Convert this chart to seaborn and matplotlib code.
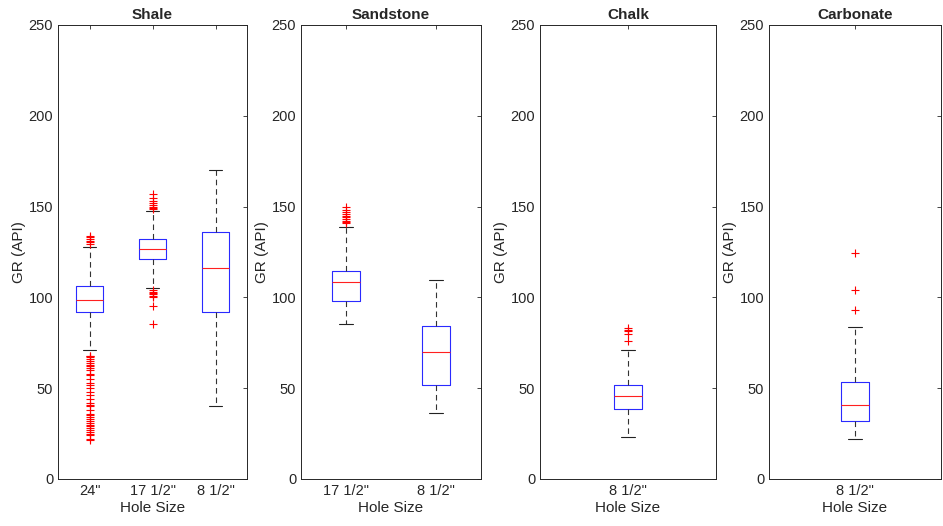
import numpy as np
import pandas as pd
import matplotlib
matplotlib.use("Agg")
import matplotlib.pyplot as plt
import seaborn as sns

# box statistics (GR in API units)
# order per box: whisker low, q1, median, q3, whisker high
lithologies = ["Shale", "Sandstone", "Chalk", "Carbonate"]
hole_sizes = {
    "Shale": ['24"', '17 1/2"', '8 1/2"'],
    "Sandstone": ['17 1/2"', '8 1/2"'],
    "Chalk": ['8 1/2"'],
    "Carbonate": ['8 1/2"'],
}

shale_24_stats = [71.0, 91.8, 98.6, 106.3, 128.0]
shale_24_low = [68, 67.5, 67, 66, 65, 64, 63, 62, 61, 60, 58, 57, 55, 53, 52,
                50, 48, 46, 44, 42, 41, 40, 38, 36, 35, 34, 33, 32, 31, 30,
                29, 28, 27, 26, 25, 24, 22, 21.5]
shale_24_high = [129.5, 130.5, 131, 132, 133, 134]

shale_17_stats = [105.4, 121.3, 126.7, 132.0, 147.7]
shale_17_low = [104, 103, 102.5, 102, 101, 100, 95.3, 85.2]
shale_17_high = [148.5, 149, 150, 151, 152, 153, 155, 157]

shale_8_stats = [40.2, 92.1, 116.0, 136.2, 170.3]

sand_17_stats = [85.2, 98.2, 108.3, 114.7, 139.0]
sand_17_high = [140.8, 141.5, 142, 143, 144, 145, 146, 147, 148, 150]

sand_8_stats = [36.5, 51.8, 70.1, 84.1, 109.8]

chalk_8_stats = [23.3, 38.4, 45.7, 51.6, 71.2]
chalk_8_high = [76, 80, 81.5, 82, 83]

carb_8_stats = [22.2, 32.1, 40.6, 53.2, 83.5]
carb_8_high = [93.2, 104.1, 124.5]

boxes = {
    "Shale": [(shale_24_stats, shale_24_low, shale_24_high),
              (shale_17_stats, shale_17_low, shale_17_high),
              (shale_8_stats, [], [])],
    "Sandstone": [(sand_17_stats, [], sand_17_high),
                  (sand_8_stats, [], [])],
    "Chalk": [(chalk_8_stats, [], chalk_8_high)],
    "Carbonate": [(carb_8_stats, [], carb_8_high)],
}


def sample_from_stats(stats, low, high):
    # sorted sample of length 4k+1 whose quartiles hit the read values exactly
    wlo, q1, med, q3, whi = stats
    k = max(len(low), len(high)) + 2
    n = 4 * k + 1
    vals = list(sorted(low)) + [wlo]
    vals += [q1] * (k + 1 - len(vals))
    vals += [med] * k
    vals += [q3] * (n - len(vals) - len(high) - 1)
    vals += [whi] + list(sorted(high))
    return vals


sns.set_theme(style="white")
plt.rcParams["font.family"] = ["Liberation Sans", "DejaVu Sans"]
plt.rcParams["axes.edgecolor"] = "#262626"
plt.rcParams["axes.linewidth"] = 0.7

fig = plt.figure(figsize=(9.43, 5.26), dpi=100)

# axes boxes in pixels (left, right)
ax_px = [(58, 247), (301, 481), (540, 716), (769, 941)]
bottom, top = 47 / 526, 501 / 526

for lith, (x0, x1) in zip(lithologies, ax_px):
    ax = fig.add_axes([x0 / 943, bottom, (x1 - x0) / 943, top - bottom])

    rows = []
    for size, (st, lo, hi) in zip(hole_sizes[lith], boxes[lith]):
        for v in sample_from_stats(st, lo, hi):
            rows.append({"Hole Size": size, "GR": v})
    df = pd.DataFrame(rows)

    n = len(hole_sizes[lith])
    box_w = 27.5 / ((x1 - x0) / n)

    sns.boxplot(data=df, x="Hole Size", y="GR", order=hole_sizes[lith],
                width=box_w, fill=False, whis=1.5, ax=ax,
                boxprops=dict(color="#2a2aff", linewidth=0.8),
                medianprops=dict(color="#ff2020", linewidth=0.8),
                whiskerprops=dict(color="#333333", linewidth=0.8, linestyle=(0, (5, 3.5))),
                capprops=dict(color="#222222", linewidth=0.8),
                flierprops=dict(marker="+", markeredgecolor="#ff0000",
                                markersize=6, markeredgewidth=0.8))

    ax.set_xlim(-0.5, n - 0.5)
    ax.set_ylim(0, 250)
    ax.set_yticks(np.arange(0, 251, 50))
    ax.tick_params(direction="in", length=3, width=0.6, color="#262626",
                   top=True, right=True, labelsize=10.5, labelcolor="#262626")
    ax.set_title(lith, fontsize=11, fontweight="bold", pad=4)
    ax.set_xlabel("Hole Size", fontsize=11, color="#262626", labelpad=2)
    ax.set_ylabel("GR (API)", fontsize=11, color="#262626", labelpad=2)
    for sp in ax.spines.values():
        sp.set_visible(True)

fig.savefig("out.png", dpi=100)
